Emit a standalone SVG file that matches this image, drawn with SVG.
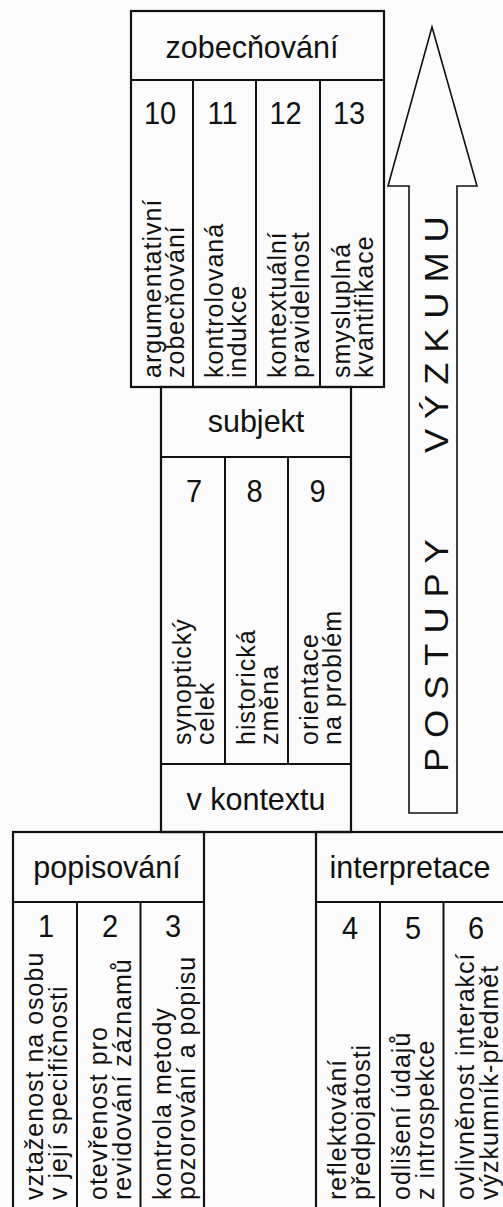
<svg xmlns="http://www.w3.org/2000/svg" width="503" height="1207" viewBox="0 0 503 1207">
<style>
.b{fill:none;stroke:#111;stroke-width:2.2}
.d{stroke:#111;stroke-width:2}
text{font-family:"Liberation Sans",Arial,Helvetica,sans-serif;fill:#111}
.h{font-size:30.5px;text-anchor:middle}
.n{font-size:29px;text-anchor:middle}
.t{font-size:25px;letter-spacing:1px}
.a{font-size:33px;letter-spacing:9px}
</style>
<rect x="0" y="0" width="503" height="1207" fill="#fcfcfc"/>

<g id="zobecnovani">
<rect class="b" x="131" y="11" width="253" height="376"/>
<line class="d" x1="131" y1="80" x2="384" y2="80"/>
<line class="d" x1="193" y1="80" x2="193" y2="387"/>
<line class="d" x1="256" y1="80" x2="256" y2="387"/>
<line class="d" x1="320" y1="80" x2="320" y2="387"/>
<text class="h" transform="translate(252,57.5) scale(1,1.05)">zobecňování</text>
<text class="n" transform="translate(160,124) scale(1,1.08)">10</text>
<text class="n" transform="translate(222.5,124) scale(1,1.08)">11</text>
<text class="n" transform="translate(285.5,124) scale(1,1.08)">12</text>
<text class="n" transform="translate(349,124) scale(1,1.08)">13</text>
<text class="t" transform="translate(161,378) rotate(-90)">argumentativní</text>
<text class="t" transform="translate(184,378) rotate(-90)">zobecňování</text>
<text class="t" transform="translate(223,378) rotate(-90)">kontrolovaná</text>
<text class="t" transform="translate(246,378) rotate(-90)">indukce</text>
<text class="t" transform="translate(286,378) rotate(-90)">kontextuální</text>
<text class="t" transform="translate(309,378) rotate(-90)">pravidelnost</text>
<text class="t" transform="translate(350,378) rotate(-90)">smysluplná</text>
<text class="t" transform="translate(373,378) rotate(-90)">kvantifikace</text>
</g>

<g id="subjekt">
<rect class="b" x="161" y="387" width="190" height="445"/>
<line class="d" x1="161" y1="457" x2="351" y2="457"/>
<line class="d" x1="161" y1="764" x2="351" y2="764"/>
<line class="d" x1="225" y1="457" x2="225" y2="764"/>
<line class="d" x1="288" y1="457" x2="288" y2="764"/>
<text class="h" transform="translate(256,431.5) scale(1,1.05)">subjekt</text>
<text class="n" transform="translate(194,502) scale(1,1.05)">7</text>
<text class="n" transform="translate(254.5,502) scale(1,1.05)">8</text>
<text class="n" transform="translate(317.5,502) scale(1,1.05)">9</text>
<text class="t" transform="translate(191,745) rotate(-90)">synoptický</text>
<text class="t" transform="translate(214,745) rotate(-90)">celek</text>
<text class="t" transform="translate(255,745) rotate(-90)">historická</text>
<text class="t" transform="translate(278,745) rotate(-90)">změna</text>
<text class="t" transform="translate(318,745) rotate(-90)">orientace</text>
<text class="t" transform="translate(341,745) rotate(-90)">na problém</text>
<text class="h" transform="translate(256,810) scale(1,1.05)">v kontextu</text>
</g>

<g id="popisovani">
<rect class="b" x="13" y="832" width="191" height="390"/>
<line class="d" x1="13" y1="902" x2="204" y2="902"/>
<line class="d" x1="77" y1="902" x2="77" y2="1212"/>
<line class="d" x1="140.5" y1="902" x2="140.5" y2="1212"/>
<text class="h" transform="translate(107,878) scale(1,1.05)">popisování</text>
<text class="n" transform="translate(46,937) scale(1,1.05)">1</text>
<text class="n" transform="translate(110,937) scale(1,1.05)">2</text>
<text class="n" transform="translate(173,937) scale(1,1.05)">3</text>
<text class="t" transform="translate(43,1200) rotate(-90)">vztaženost na osobu</text>
<text class="t" transform="translate(67,1200) rotate(-90)">v její specifičnosti</text>
<text class="t" transform="translate(107,1200) rotate(-90)">otevřenost pro</text>
<text class="t" transform="translate(131,1200) rotate(-90)">revidování záznamů</text>
<text class="t" transform="translate(170.5,1200) rotate(-90)">kontrola metody</text>
<text class="t" transform="translate(194.5,1200) rotate(-90)">pozorování a popisu</text>
</g>

<g id="interpretace">
<rect class="b" x="316" y="832" width="191" height="390"/>
<line class="d" x1="316" y1="902" x2="507" y2="902"/>
<line class="d" x1="380" y1="902" x2="380" y2="1212"/>
<line class="d" x1="443.5" y1="902" x2="443.5" y2="1212"/>
<text class="h" transform="translate(410,878) scale(1,1.05)">interpretace</text>
<text class="n" transform="translate(350,938.5) scale(1,1.05)">4</text>
<text class="n" transform="translate(413,938.5) scale(1,1.05)">5</text>
<text class="n" transform="translate(476,938.5) scale(1,1.05)">6</text>
<text class="t" transform="translate(346,1200) rotate(-90)">reflektování</text>
<text class="t" transform="translate(370,1200) rotate(-90)">předpojatosti</text>
<text class="t" transform="translate(410,1200) rotate(-90)">odlišení údajů</text>
<text class="t" transform="translate(434,1200) rotate(-90)">z introspekce</text>
<text class="t" transform="translate(473.5,1200) rotate(-90)">ovlivněnost interakcí</text>
<text class="t" transform="translate(497.5,1200) rotate(-90)">výzkumník-předmět</text>
</g>

<g id="postupy-vyzkumu">
<polygon points="432,27 477,186 457,186 457,813 409,813 409,186 388,186" fill="#fcfcfc" stroke="#111" stroke-width="1.6" stroke-linejoin="miter"/>
<text class="a" transform="translate(448,772) scale(1,1.1) rotate(-90)">POSTUPY</text>
<text class="a" transform="translate(448,453) scale(1,1.1) rotate(-90)">VÝZKUMU</text>
</g>

<g id="connectors"></g>
</svg>
